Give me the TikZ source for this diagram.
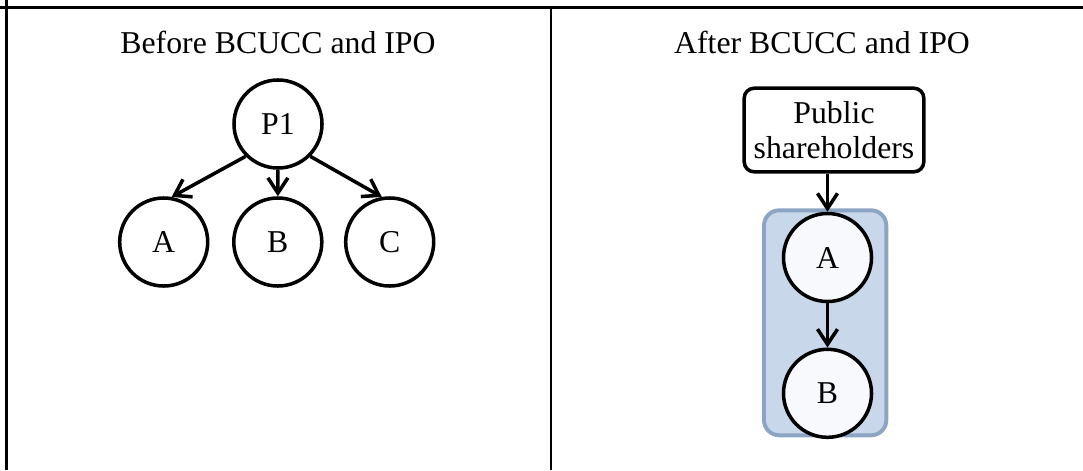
\documentclass[tikz,border=0pt]{standalone}
\usepackage{fontspec}
\setmainfont{Liberation Serif}
\usetikzlibrary{arrows.meta}
\definecolor{groupfill}{HTML}{C9D7EA}
\definecolor{groupline}{HTML}{8DA5C4}
\definecolor{firmfill}{HTML}{F8F9FC}

\begin{document}
\begin{tikzpicture}[x=0.025cm, y=-0.025cm,
	firm/.style={circle, draw, line width=2.5pt, minimum size=2.2cm, inner sep=0pt, font=\fontsize{22.6}{27}\selectfont},
	holder/.style={draw, rounded corners=0.25cm, line width=2.5pt, align=center, minimum width=4.49cm, minimum height=2.09cm, inner sep=0pt, font=\fontsize{22.6}{25}\selectfont},
	title/.style={anchor=base, inner sep=0pt, font=\fontsize{22.6}{27}\selectfont},
	own/.style={line width=2.5pt, -{Straight Barb[length=0.38cm, width=0.5cm]}},
	rule/.style={line width=1.5pt},
	group/.style={draw=groupline, fill=groupfill, line width=2.8pt, rounded corners=0.38cm}]
			%%%%% START %%%%%
			
			\useasboundingbox (0, 0) rectangle (1083, 470);
			
			\draw[rule] (0, 7.5) -- (1083, 7.5);
			\draw[rule] (6.5, 0) -- (6.5, 470);
			\draw[rule] (551, 7.5) -- (551, 470);
			
			\node[title] (before) at (278, 53.3) {Before BCUCC and IPO};
			\node[title] (after) at (822, 53.3) {After BCUCC and IPO};
			
			\node[firm] (P1) at (278, 124) {P1};
			\node[firm] (A) at (163.7, 242) {A};
			\node[firm] (B) at (277.8, 242) {B};
			\node[firm] (C) at (389.7, 242) {C};
			
			\draw[own] (P1.225) -- (A.80);
			\draw[own] (P1) -- (B);
			\draw[own] (P1.-45) -- (C.100);
			
			\draw[group] (764, 210.3) rectangle (886.3, 435.3);
			
			\node[holder] (pub) at (834, 130) {Public\\shareholders};
			\node[firm, fill=firmfill] (A2) at (827.5, 257.5) {A};
			\node[firm, fill=firmfill] (B2) at (827.5, 393.3) {B};
			
			\draw[own] (pub.south -| A2) -- (A2);
			\draw[own] (A2) -- (B2);
			
			%%%%% END %%%%%
\end{tikzpicture}
\end{document}
